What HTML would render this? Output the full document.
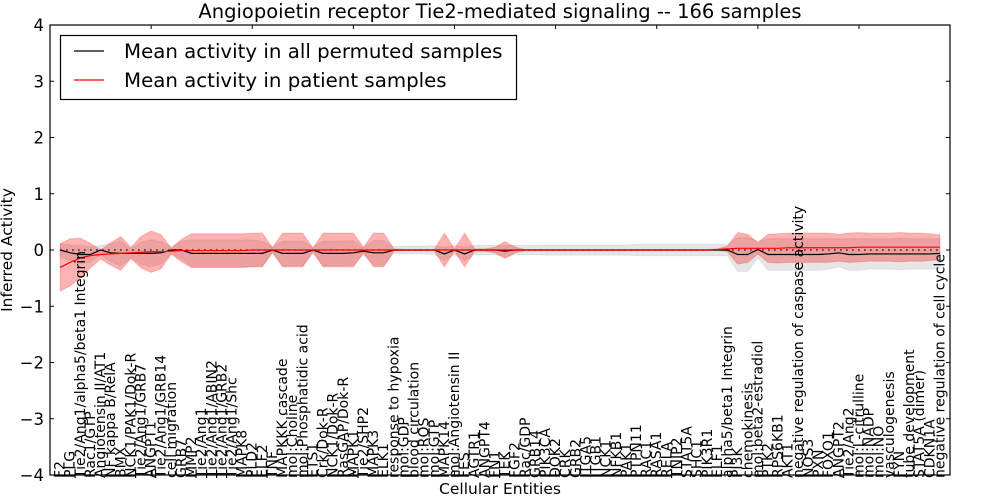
<!DOCTYPE html>
<html><head><meta charset="utf-8"><style>
html,body{margin:0;padding:0;background:#fff;width:1000px;height:500px;overflow:hidden}
svg{display:block}
text{font-family:"DejaVu Sans","Liberation Sans",sans-serif;fill:#000}
</style></head><body>
<svg id="chart" width="1000" height="500" viewBox="0 0 1000 500" xmlns="http://www.w3.org/2000/svg">
<text x="500" y="18" font-size="19.5" text-anchor="middle">Angiopoietin receptor Tie2-mediated signaling -- 166 samples</text>
<text x="500" y="494" font-size="15.5" text-anchor="middle">Cellular Entities</text>
<text x="12" y="250" font-size="15.5" text-anchor="middle" transform="rotate(-90 12 250)">Inferred Activity</text>
<g id="plot"></g>
</svg>
<script>
const categories = ["F2","PLG","Tie2/Ang1/alpha5/beta1 Integrin","Rac1/GTP","Angiotensin II/AT1","NF kappa B/RelA","BMX","NCK1/PAK1/Dok-R","Tie2/Ang1/GRB7","ANGPT1","Tie2/Ang1/GRB14","cell migration","GRB7","MMP2","Tie2/Ang1","Tie2/Ang1/ABIN2","Tie2/Ang1/GRB2","Tie2/Ang1/Shc","MAPK8","PLD2","ELF2","TNF","MAPKKK cascade","mol:Choline","mol:Phosphatidic acid","ETS1","Crk/Dok-R","NCK1/Dok-R","RasGAP/Dok-R","MAPK1","Tie2/SHP2","MAPK3","ELK1","response to hypoxia","mol:GDP","blood circulation","mol:ROS","mol:GTP","MAPK14","mol:Angiotensin II","FES","AGTR1","ANGPT4","FN1","TEK","FGF2","Rac/GDP","GRB14","PIK3CA","DOK2","CRK","GRB2","ITGA5","ITGB1","NCK1","NFKB1","PAK1","PTPN11","RAC1","RASA1","RELA","TNIP2","STAT5A","SHC1","PIK3R1","ELF1","alpha5/beta1 Integrin","PI3K","chemokinesis","mol:beta2-estradiol","PTK2","RPS6KB1","AKT1","negative regulation of caspase activity","NOS3","PXN","FOXO1","ANGPT2","Tie2/Ang2","mol:L-citrulline","mol:NADP","mol:NO","vasculogenesis","FYN","tube development","STAT5A (dimer)","CDKN1A","negative regulation of cell cycle"];
const patientMean = [-0.31,-0.22,-0.14,-0.1,-0.08,-0.07,-0.06,-0.05,-0.04,-0.03,-0.03,-0.02,-0.01,-0.01,-0.01,-0.01,-0.01,-0.01,-0.01,0,0,0,0,0,0,0,0,0,0,0,0,0,0,0,0,0,0,0,0,0,0,0,0,0,0,0,0,0,0,0,0,0,0,0,0,0,0,0,0,0,0,0,0,0,0,0.01,0.02,0.03,0.03,0.03,0.03,0.03,0.04,0.04,0.04,0.04,0.04,0.04,0.04,0.05,0.05,0.05,0.05,0.05,0.05,0.05,0.05,0.05];
const patientSd = [0.42,0.42,0.35,0.22,0.08,0.2,0.3,0.1,0.28,0.37,0.3,0.05,0.2,0.3,0.3,0.3,0.3,0.3,0.3,0.3,0.3,0.04,0.3,0.3,0.3,0.03,0.3,0.3,0.3,0.3,0.05,0.3,0.3,0.02,0.01,0.01,0.01,0.01,0.3,0.02,0.3,0.02,0.02,0.05,0.15,0.05,0.01,0.01,0.01,0.01,0.01,0.01,0.01,0.01,0.01,0.01,0.01,0.01,0.01,0.01,0.01,0.01,0.01,0.01,0.01,0.01,0.05,0.28,0.25,0.1,0.25,0.26,0.26,0.26,0.26,0.26,0.26,0.24,0.26,0.26,0.25,0.25,0.25,0.26,0.25,0.25,0.24,0.22];
const permutedMean = [0,-0.05,-0.08,-0.08,0,-0.05,-0.06,-0.06,-0.06,-0.06,-0.05,0,0,-0.06,-0.06,-0.06,-0.06,-0.06,-0.06,-0.06,-0.06,0,-0.06,-0.06,-0.06,0,-0.06,-0.06,-0.06,-0.05,-0.02,-0.05,-0.05,0,0,0,0,0,-0.07,0,-0.07,0,0,0,-0.02,0,0,0,0,0,0,0,0,0,0,0,0,0,0,0,0,0,0,0,0,0,0,-0.08,-0.08,0.01,-0.08,-0.08,-0.08,-0.08,-0.08,-0.08,-0.07,-0.05,-0.08,-0.08,-0.07,-0.07,-0.07,-0.07,-0.07,-0.07,-0.07,-0.06];
const permutedSd = [0.12,0.14,0.16,0.14,0.08,0.16,0.22,0.08,0.2,0.24,0.2,0.06,0.16,0.24,0.24,0.24,0.24,0.24,0.24,0.24,0.22,0.06,0.22,0.22,0.22,0.06,0.22,0.22,0.22,0.22,0.06,0.22,0.22,0.06,0.07,0.07,0.07,0.08,0.12,0.08,0.12,0.08,0.08,0.08,0.1,0.08,0.08,0.08,0.09,0.09,0.09,0.09,0.09,0.09,0.09,0.09,0.09,0.1,0.1,0.1,0.1,0.1,0.1,0.1,0.1,0.1,0.1,0.3,0.3,0.15,0.28,0.28,0.28,0.28,0.28,0.28,0.27,0.25,0.28,0.28,0.27,0.27,0.27,0.28,0.27,0.27,0.27,0.26];
const yTicks = [4,3,2,1,0,-1,-2,-3,-4];
const xTicks = [0,10,20,30,40,50,60,70,80];

const L=50,R=950,T=25,B=475,XMAX=89,YMIN=-4,YMAX=4;
const sx=v=>L+(v/XMAX)*(R-L);
const sy=v=>T+(YMAX-v)/(YMAX-YMIN)*(B-T);
const NS="http://www.w3.org/2000/svg";
const g=document.getElementById('plot');
function mk(tag,attrs){const e=document.createElementNS(NS,tag);for(const k in attrs)e.setAttribute(k,attrs[k]);g.appendChild(e);return e;}
function band(mean,sd){let up=[],dn=[];mean.forEach((m,i)=>{up.push(sx(i+1)+','+sy(m+sd[i]));dn.unshift(sx(i+1)+','+sy(m-sd[i]));});return up.concat(dn).join(' ');}
function line(vals){return vals.map((m,i)=>sx(i+1)+','+sy(m)).join(' ');}

const gb=mk('polygon',{points:band(permutedMean,permutedSd),fill:'#808080','fill-opacity':0.2,stroke:'#808080','stroke-opacity':0.15});


const rb=mk('polygon',{points:band(patientMean,patientSd),fill:'#ff0000','fill-opacity':0.3,stroke:'#ff0000','stroke-opacity':0.2});


const zl=mk('line',{x1:sx(1),x2:sx(88),y1:sy(0),y2:sy(0),stroke:'#000','stroke-width':1.2,'stroke-dasharray':'1.5 4.5'});


const bl=mk('polyline',{points:line(permutedMean),fill:'none',stroke:'#000','stroke-width':1.2});


const rl=mk('polyline',{points:line(patientMean),fill:'none',stroke:'#ff0000','stroke-width':1.2});



categories.forEach((c,i)=>{const x=sx(i+1)+4.5;
 const t=mk('text',{x:x,y:478,'font-size':14,'text-anchor':'start',transform:`rotate(-90 ${x} 478)`});t.textContent=c;
 
 
});
yTicks.forEach(v=>{const y=sy(v);
 const a=mk('line',{x1:L,x2:L+4,y1:y,y2:y,stroke:'#000'});
 const b=mk('line',{x1:R-4,x2:R,y1:y,y2:y,stroke:'#000'});
 const t=mk('text',{x:L-6,y:y+6,'font-size':16.5,'text-anchor':'end'});t.textContent=(v<0?'\u2212'+(-v):''+v);
 
 
});
xTicks.forEach(v=>{const x=sx(v);
 const a=mk('line',{x1:x,x2:x,y1:T,y2:T+4,stroke:'#000'});
 const b=mk('line',{x1:x,x2:x,y1:B-4,y2:B,stroke:'#000'});
});
const fr=mk('rect',{x:L,y:T,width:R-L,height:B-T,fill:'none',stroke:'#000','stroke-width':1.2});


const lg=mk('rect',{x:60.5,y:35.5,width:456,height:64,fill:'#fff',stroke:'#000','stroke-width':1.2});


const l1=mk('line',{x1:74,x2:104,y1:51,y2:51,stroke:'#000','stroke-width':1.2});


const t1=mk('text',{x:124,y:58,'font-size':19.8});t1.textContent='Mean activity in all permuted samples';


const l2=mk('line',{x1:74,x2:104,y1:80,y2:80,stroke:'#ff0000','stroke-width':1.2});


const t2=mk('text',{x:124,y:87,'font-size':19.8});t2.textContent='Mean activity in patient samples';


</script>
</body></html>
